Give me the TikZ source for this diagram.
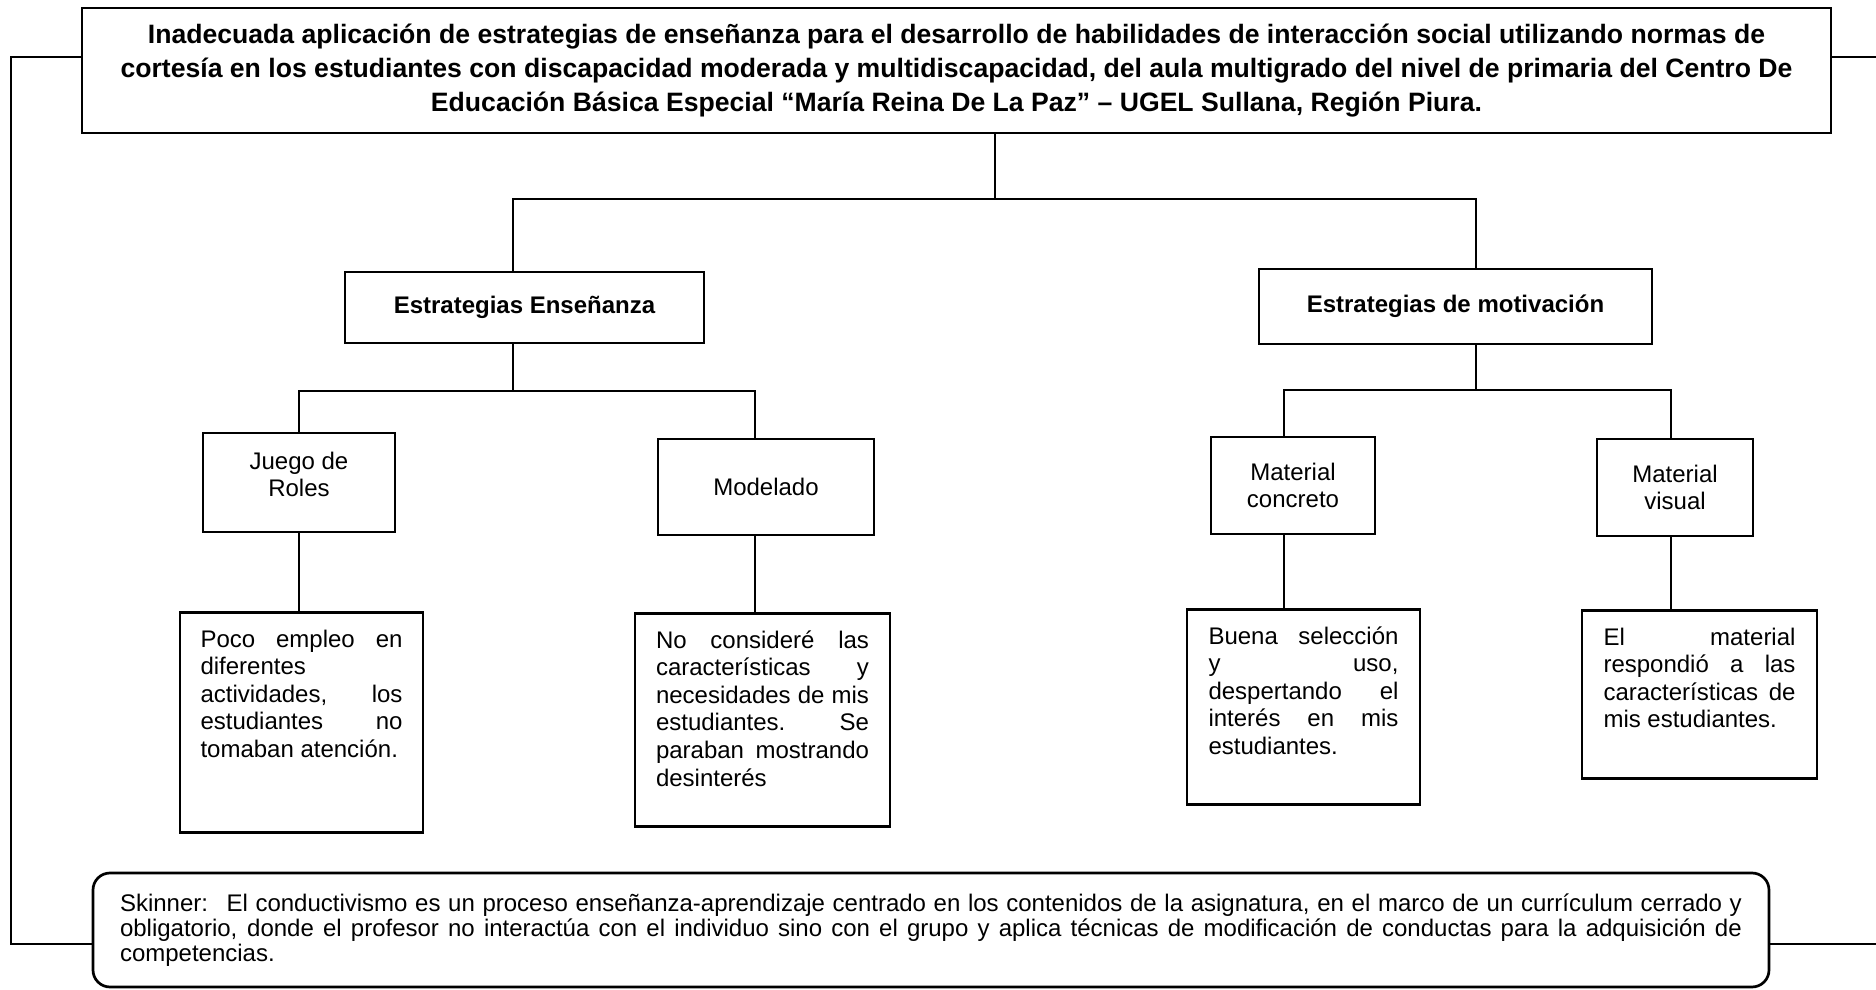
\documentclass[tikz,border=0pt]{standalone}
\usepackage{fontspec}
\setmainfont{Liberation Sans}
\usetikzlibrary{positioning}
\hyphenpenalty=10000
\exhyphenpenalty=10000
\hbadness=10000
\newcommand{\leaftxt}[3]{\parbox[c][#2][t]{#1}{\tolerance=10000\strut #3}}
\tikzset{
    titlebox/.style={
        rectangle,
        draw=black,
        line width=1.35pt,
        align=center,
        font=\fontsize{13.3}{17}\selectfont\bfseries
    },
    groupbox/.style={
        rectangle,
        draw=black,
        line width=1.35pt,
        align=center,
        font=\fontsize{12}{14}\selectfont\bfseries
    },
    itembox/.style={
        rectangle,
        draw=black,
        line width=1.35pt,
        align=center,
        font=\fontsize{12}{13.8}\selectfont
    },
    leafbox/.style={
        rectangle,
        draw=black,
        line width=1.35pt,
        inner sep=0pt,
        font=\fontsize{12}{13.8}\selectfont
    },
    notebox/.style={
        rectangle,
        rounded corners=8.5pt,
        draw=black,
        line width=1.35pt,
        text width=811pt,
        align=justify,
        font=\fontsize{12}{12.5}\selectfont
    },
    wire/.style={
        draw=black,
        line width=1.15pt
    }
}

\begin{document}
\begin{tikzpicture}[x=0.5pt, y=-0.5pt, node distance=36pt and 20pt]
\useasboundingbox (0,0) rectangle (1876,990);

% Problem
\node[titlebox, minimum width=874.5pt, minimum height=62.5pt] (prob) at (956.5,70.5) {Inadecuada aplicación de estrategias de enseñanza para el desarrollo de habilidades de interacción social utilizando normas de\\cortesía en los estudiantes con discapacidad moderada y multidiscapacidad, del aula multigrado del nivel de primaria del Centro De\\Educación Básica Especial “María Reina De La Paz” – UGEL Sullana, Región Piura.};

% Strategies
\node[groupbox, minimum width=179.5pt, minimum height=35.5pt] (ense) at (524.5,307.5) {Estrategias Enseñanza};
\node[groupbox, minimum width=196.5pt, minimum height=37.5pt] (moti) at (1455.5,306.5) {Estrategias de motivación};

\coordinate (j0) at (995,199);
\coordinate (j1) at (513,199);
\coordinate (j2) at (1476,199);
\draw[wire] (prob.south -| j0) -- (j0);
\draw[wire] (ense.north -| j1) -- (j1) -- (j2) -- (moti.north -| j2);

% Items
\node[itembox, minimum width=96pt, minimum height=49.5pt, text depth=8pt] (roles) at (299,482.5) {Juego de\\Roles};
\node[itembox, minimum width=108pt, minimum height=48pt] (model) at (766,487) {Modelado};
\node[itembox, minimum width=82pt, minimum height=48.5pt] (mconc) at (1293,485.5) {Material\\concreto};
\node[itembox, minimum width=78pt, minimum height=48.5pt] (mvis) at (1675,487.5) {Material\\visual};

\coordinate (k1) at (513,391);
\coordinate (k1a) at (299,391);
\coordinate (k1b) at (755,391);
\draw[wire] (ense.south -| k1) -- (k1);
\draw[wire] (roles.north -| k1a) -- (k1a) -- (k1b) -- (model.north -| k1b);

\coordinate (k2) at (1476,390);
\coordinate (k2a) at (1284,390);
\coordinate (k2b) at (1671,390);
\draw[wire] (moti.south -| k2) -- (k2);
\draw[wire] (mconc.north -| k2a) -- (k2a) -- (k2b) -- (mvis.north -| k2b);

% Details
\node[leafbox, minimum width=121.5pt, minimum height=110pt, below=39pt of roles, xshift=1.25pt] (d_roles) {\leaftxt{101pt}{95pt}{Poco empleo en\linebreak diferentes\linebreak actividades, los\linebreak estudiantes no\linebreak tomaban atención.}};
\node[leafbox, minimum width=127.5pt, minimum height=106.5pt, below=38pt of model, xshift=-1.75pt] (d_model) {\leaftxt{106.5pt}{91.5pt}{No consideré las\linebreak características y\linebreak necesidades de mis\linebreak estudiantes. Se\linebreak paraban mostrando\linebreak desinterés}};
\node[leafbox, minimum width=116.5pt, minimum height=97.5pt, below=36.5pt of mconc, xshift=5.25pt] (d_conc) {\leaftxt{95pt}{82.5pt}{Buena selección\linebreak y uso,\linebreak despertando el\linebreak interés en mis\linebreak estudiantes.}};
\node[leafbox, minimum width=117.5pt, minimum height=84pt, below=36pt of mvis, xshift=12.25pt] (d_vis) {\leaftxt{96pt}{69pt}{El material\linebreak respondió a las\linebreak características de\linebreak mis estudiantes.}};

\draw[wire] (roles.south -| k1a) -- (d_roles.north -| k1a);
\draw[wire] (model.south -| k1b) -- (d_model.north -| k1b);
\draw[wire] (mconc.south -| k2a) -- (d_conc.north -| k2a);
\draw[wire] (mvis.south -| k2b) -- (d_vis.north -| k2b);

% Theory note
\node[notebox, minimum width=838pt, minimum height=57pt] (skinner) at (931,930) {Skinner:~ El conductivismo es un proceso \mbox{enseñanza-aprendizaje} centrado en los contenidos de la asignatura, en el marco de un currículum cerrado y\linebreak obligatorio, donde el profesor no interactúa con el individuo sino con el grupo y aplica técnicas de modificación de conductas para la adquisición de\linebreak competencias.};

% Side brackets
\coordinate (l0) at (11,57);
\coordinate (l1) at (11,944);
\draw[wire] (prob.west |- l0) -- (l0) -- (l1) -- (skinner.west |- l1);
\coordinate (r0) at (1876,57);
\coordinate (r1) at (1876,944);
\draw[wire] (prob.east |- r0) -- (r0);
\draw[wire] (skinner.east |- r1) -- (r1);

\end{tikzpicture}
\end{document}
